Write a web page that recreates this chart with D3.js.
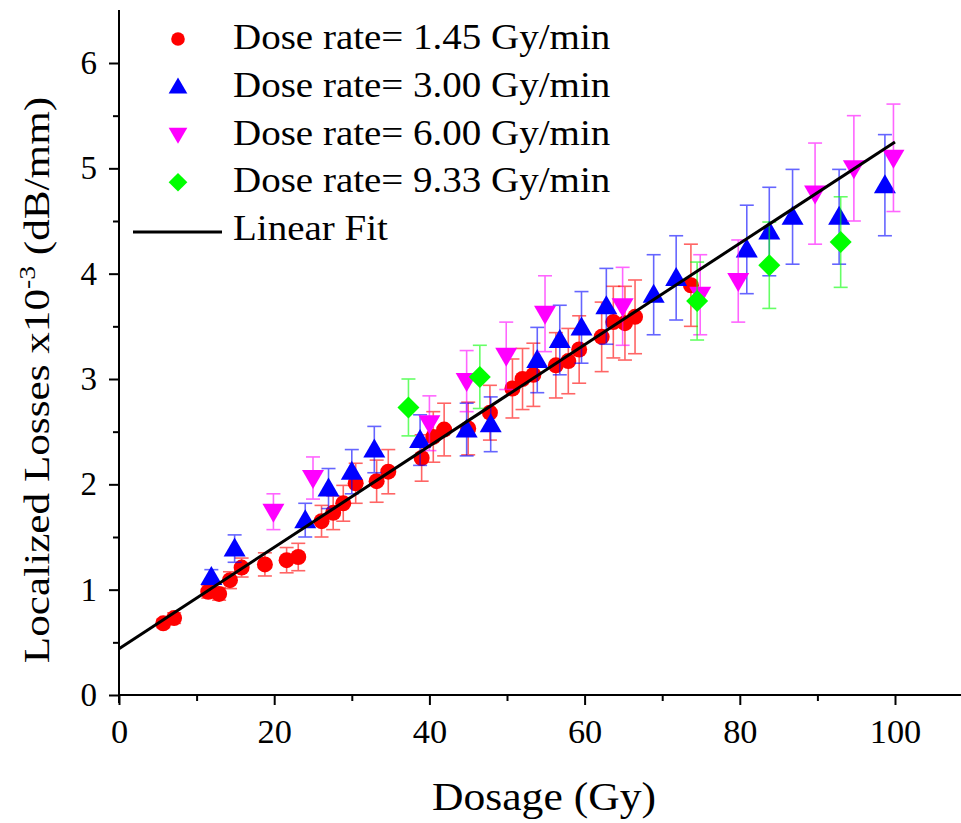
<!DOCTYPE html>
<html><head><meta charset="utf-8">
<script src="https://cdn.jsdelivr.net/npm/d3@7"></script>
<style>body{margin:0;background:#fff}svg{display:block}text{font-family:"Liberation Serif","Times New Roman",serif;fill:#000}</style>
</head><body>
<svg id="c" width="961" height="823"></svg>
<script>
// ---- data ----
const seriesNames = ["Dose rate= 1.45 Gy/min","Dose rate= 3.00 Gy/min","Dose rate= 6.00 Gy/min","Dose rate= 9.33 Gy/min"];
const redX = [5.7,7.1,11.5,12.9,14.3,15.8,18.8,21.6,23.1,26.1,27.6,28.9,30.5,33.2,34.7,39.0,40.5,41.9,45.0,47.8,50.7,52.0,53.4,56.3,57.9,59.3,62.2,63.7,65.2,66.5,73.7];
const redY = [0.68,0.73,0.98,0.96,1.09,1.21,1.24,1.28,1.31,1.65,1.73,1.82,2.01,2.03,2.12,2.25,2.45,2.52,2.53,2.68,2.91,3.00,3.04,3.13,3.17,3.28,3.40,3.54,3.53,3.59,3.89];
const redE = [0.04,0.05,0.06,0.06,0.08,0.09,0.11,0.12,0.13,0.15,0.16,0.17,0.19,0.20,0.21,0.22,0.24,0.25,0.25,0.26,0.28,0.29,0.30,0.31,0.31,0.32,0.33,0.34,0.35,0.35,0.39];
const blueX = [11.9,14.9,24.0,27.0,30.0,32.9,38.8,44.8,47.9,53.9,56.8,59.6,62.8,68.9,71.8,80.9,83.8,86.8,92.8,98.7];
const blueY = [1.12,1.39,1.66,1.96,2.12,2.33,2.42,2.52,2.57,3.18,3.37,3.49,3.69,3.80,3.96,4.23,4.40,4.54,4.54,4.84];
const blueE = [0.07,0.13,0.16,0.19,0.21,0.22,0.24,0.25,0.26,0.31,0.33,0.34,0.36,0.38,0.40,0.42,0.42,0.45,0.45,0.48];
const magX = [19.9,25.0,40.0,44.8,49.9,54.9,64.9,74.9,79.8,89.7,94.7,99.8];
const magY = [1.74,2.06,2.58,2.98,3.22,3.62,3.69,3.80,3.93,4.76,5.00,5.10];
const magE = [0.17,0.20,0.26,0.29,0.32,0.36,0.37,0.38,0.39,0.48,0.50,0.51];
const greenX = [37.3,46.5,74.5,83.8,93.0];
const greenY = [2.73,3.02,3.74,4.08,4.30];
const greenE = [0.27,0.30,0.37,0.41,0.43];
const fitX = [0,100];
const fitY = [0.44,5.25];
const xTicks = [0,20,40,60,80,100];
const yTicks = [0,1,2,3,4,5,6];

// ---- layout ----
const svg = d3.select("#c");
const x = d3.scaleLinear().domain([0,100]).range([119,895]);
const y = d3.scaleLinear().domain([0,6]).range([695,63]);
const xMax = x.invert(961), yMax = y.invert(10);

const series = [
  {name:seriesNames[0], xs:redX, ys:redY, es:redE, color:"#ff0000", sym:"circle"},
  {name:seriesNames[1], xs:blueX, ys:blueY, es:blueE, color:"#0000ff", sym:"up"},
  {name:seriesNames[2], xs:magX, ys:magY, es:magE, color:"#ff00ff", sym:"down"},
  {name:seriesNames[3], xs:greenX, ys:greenY, es:greenE, color:"#00ff00", sym:"diamond"}
];

function marker(g, sym, color, cx, cy, s=1){
  if(sym==="circle") g.append("circle").attr("cx",cx).attr("cy",cy).attr("r",8*s).attr("fill",color);
  else if(sym==="up") g.append("path").attr("d",`M${cx},${cy-11*s}L${cx+11*s},${cy+8*s}L${cx-11*s},${cy+8*s}Z`).attr("fill",color);
  else if(sym==="down") g.append("path").attr("d",`M${cx},${cy+11*s}L${cx+11*s},${cy-8*s}L${cx-11*s},${cy-8*s}Z`).attr("fill",color);
  else g.append("path").attr("d",`M${cx},${cy-11*s}L${cx+11*s},${cy}L${cx},${cy+11*s}L${cx-11*s},${cy}Z`).attr("fill",color);
}

// axes
const xAxisG = svg.append("g").attr("transform","translate(0,695)");
xAxisG.call(d3.axisBottom(x).tickValues(xTicks).tickSize(10).tickSizeOuter(0).tickPadding(15).tickFormat(d3.format("d")));
svg.append("g").attr("transform","translate(0,695)").call(d3.axisBottom(x).tickValues(d3.range(10,xMax,20)).tickSize(6).tickFormat("")).select(".domain").remove();
xAxisG.select(".domain").attr("d",`M${x(0)},0H961`);
const yAxisG = svg.append("g").attr("transform","translate(119,0)");
yAxisG.call(d3.axisLeft(y).tickValues(yTicks).tickSize(10).tickSizeOuter(0).tickPadding(12).tickFormat(d3.format("d")));
svg.append("g").attr("transform","translate(119,0)").call(d3.axisLeft(y).tickValues(d3.range(0.5,6.5,1)).tickSize(6).tickFormat("")).select(".domain").remove();
yAxisG.select(".domain").attr("d",`M0,${y(0)+8}V${y(yMax)}`);
svg.selectAll(".tick line").attr("stroke","#000").attr("stroke-width",2);
svg.selectAll(".domain").attr("stroke","#000").attr("stroke-width",2);
svg.selectAll(".tick text").attr("font-size",33).attr("fill","#000").style("font-family","Liberation Serif");
xAxisG.selectAll(".tick text").attr("transform","scale(1.04,1)");

// data
const plot = svg.append("g");
series.forEach(s=>{
  const g = plot.append("g");
  s.xs.forEach((xv,i)=>{
    const cx=x(xv), y1=y(s.ys[i]+s.es[i]), y2=y(s.ys[i]-s.es[i]);
    const eg = g.append("g").attr("stroke",s.color).attr("stroke-width",1.6).attr("opacity",0.6);
    eg.append("line").attr("x1",cx).attr("x2",cx).attr("y1",y1).attr("y2",y2);
    eg.append("line").attr("x1",cx-7).attr("x2",cx+7).attr("y1",y1).attr("y2",y1);
    eg.append("line").attr("x1",cx-7).attr("x2",cx+7).attr("y1",y2).attr("y2",y2);
  });
  s.xs.forEach((xv,i)=>marker(g,s.sym,s.color,x(xv),y(s.ys[i])));
});

// fit line
svg.append("path").datum(fitX.map((v,i)=>[v,fitY[i]]))
  .attr("d",d3.line().x(d=>x(d[0])).y(d=>y(d[1])))
  .attr("stroke","#000").attr("stroke-width",3).attr("fill","none");

// legend
const lg = svg.append("g");
series.forEach((s,i)=>{
  const ly = 41 + i*47.75;
  marker(lg,s.sym,s.color,178,ly-2,0.85);
  lg.append("text").attr("transform",`translate(233,${ly+8}) scale(1.115,1)`).attr("font-size",35).text(s.name);
});
lg.append("line").attr("x1",133).attr("x2",222).attr("y1",232).attr("y2",232).attr("stroke","#000").attr("stroke-width",3);
lg.append("text").attr("transform",`translate(233,${232+8}) scale(1.115,1)`).attr("font-size",35).text("Linear Fit");

// titles
svg.append("text").attr("transform","translate(544,810) scale(1.09,1)").attr("text-anchor","middle").attr("font-size",40).text("Dosage (Gy)");
const yt = svg.append("text").attr("transform","translate(49,380) rotate(-90) scale(1.2,1)").attr("text-anchor","middle").attr("font-size",36);
yt.append("tspan").text("Localized Losses x10");
yt.append("tspan").attr("dy",-14).attr("font-size",23).text("-3");
yt.append("tspan").attr("dy",14).text(" (dB/mm)");
</script>
</body></html>
